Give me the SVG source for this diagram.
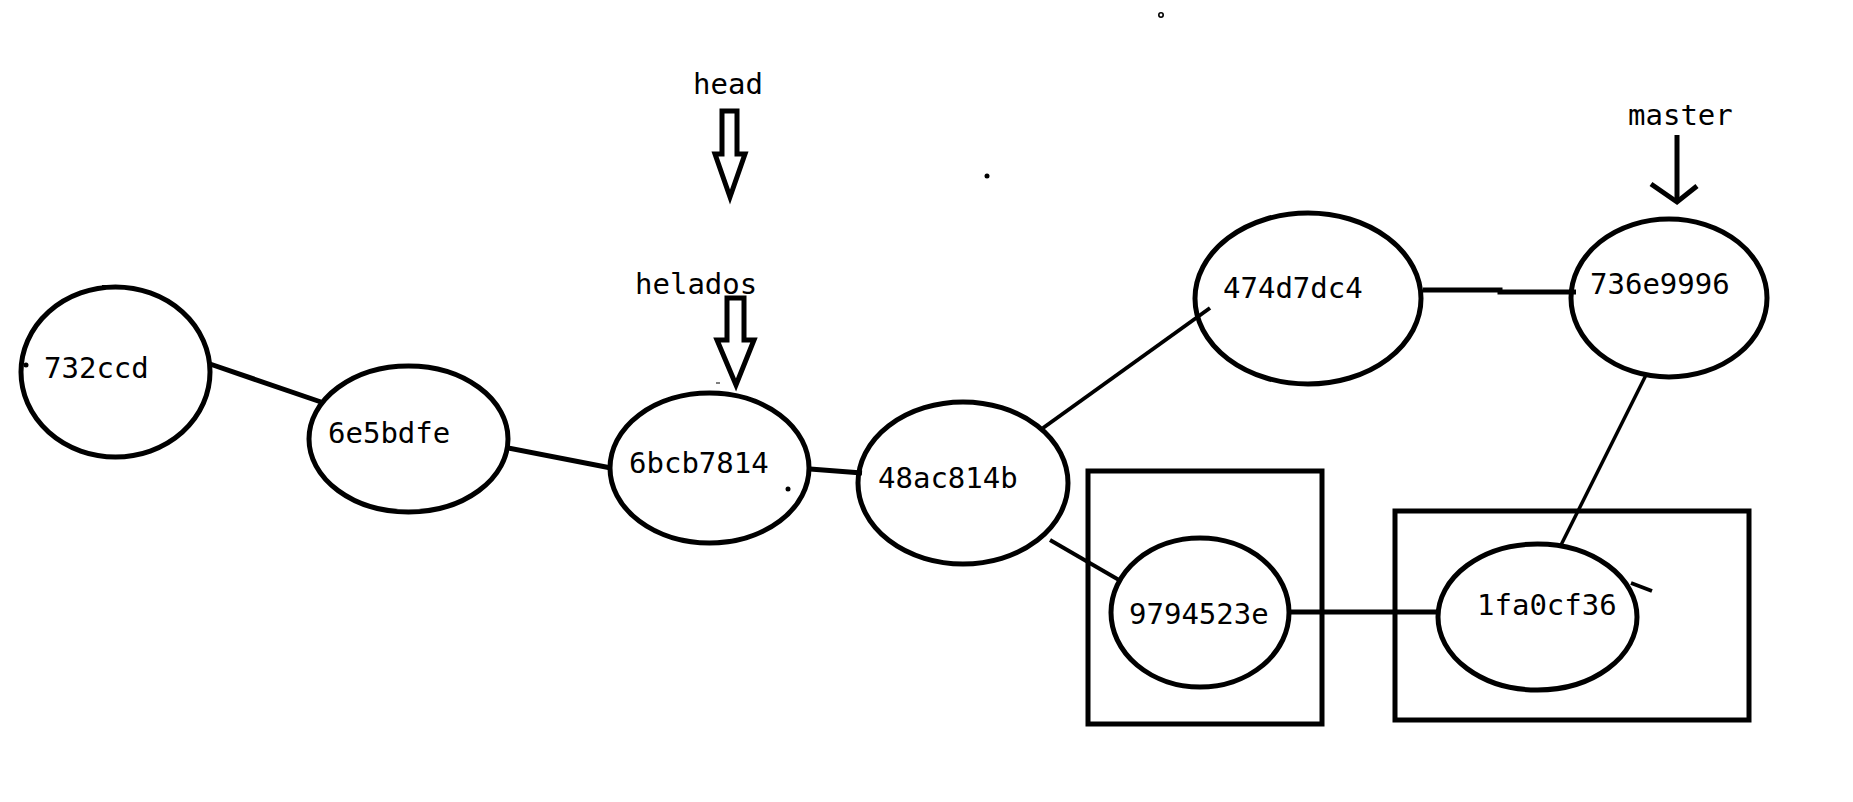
<svg xmlns="http://www.w3.org/2000/svg" width="1853" height="802" viewBox="0 0 1853 802">
<style>
.n{fill:none;stroke:#000;stroke-width:5}
.t{font-family:"DejaVu Sans Mono","Liberation Mono",monospace;font-size:29px;fill:#000}
.c{stroke:#000;stroke-width:5;fill:none;stroke-linecap:butt}
.box{fill:none;stroke:#000;stroke-width:5}
.ar{fill:#fff;stroke:#000;stroke-width:5;stroke-linejoin:miter}
</style>
<rect width="1853" height="802" fill="#fff"/>
<g id="connectors">
<line class="c" x1="210" y1="364" x2="321" y2="402"/>
<line class="c" x1="508" y1="448" x2="611" y2="468"/>
<line class="c" x1="810" y1="469" x2="862" y2="473"/>
<line class="c" x1="1043" y1="428" x2="1210" y2="308" style="stroke-width:4"/>
<line class="c" x1="1050" y1="540" x2="1119" y2="580" style="stroke-width:4"/>
<path class="c" d="M1423 290 H1500 V292 H1576"/>
<line class="c" x1="1291" y1="612" x2="1438" y2="612"/>
<line class="c" x1="1646" y1="375" x2="1561" y2="545" style="stroke-width:3.5"/>
</g>
<g id="box-9794523e"><rect class="box" x="1088" y="471" width="234" height="253"/></g>
<g id="box-1fa0cf36"><rect class="box" x="1395" y="511" width="354" height="209"/></g>
<g id="n732ccd">
<ellipse class="n" cx="115.5" cy="372" rx="94.5" ry="85"/>
<line x1="102" y1="286" x2="112" y2="286" stroke="#000" stroke-width="2"/>
<circle cx="26" cy="365" r="2.5" fill="#000"/>
<text class="t" x="44" y="378">732ccd</text>
</g>
<g id="n6e5bdfe">
<ellipse class="n" cx="408.5" cy="439" rx="99.5" ry="73"/>
<text class="t" x="328" y="443">6e5bdfe</text>
</g>
<g id="n6bcb7814">
<ellipse class="n" cx="709.5" cy="468" rx="99.5" ry="75"/>
<circle cx="788" cy="489" r="2.5" fill="#000"/>
<line x1="716" y1="383" x2="720" y2="383" stroke="#000" stroke-width="1"/>
<text class="t" x="629" y="473">6bcb7814</text>
</g>
<g id="n48ac814b">
<ellipse class="n" cx="963" cy="483" rx="105" ry="81"/>
<text class="t" x="878" y="488">48ac814b</text>
</g>
<g id="n474d7dc4">
<ellipse class="n" cx="1308" cy="298.5" rx="113" ry="85.5"/>
<text class="t" x="1223" y="298">474d7dc4</text>
</g>
<g id="n736e9996">
<ellipse class="n" cx="1669" cy="298" rx="98" ry="79"/>
<text class="t" x="1590" y="294">736e9996</text>
</g>
<g id="n9794523e">
<ellipse class="n" cx="1200" cy="612.5" rx="89" ry="74.5"/>
<text class="t" x="1129" y="624">9794523e</text>
</g>
<g id="n1fa0cf36">
<ellipse class="n" cx="1537.5" cy="617" rx="99.5" ry="73"/>
<line x1="1631" y1="583" x2="1652" y2="591" stroke="#000" stroke-width="4"/>
<text class="t" x="1477" y="615">1fa0cf36</text>
</g>
<g id="head">
<text class="t" x="693" y="94">head</text>
<path class="ar" d="M722 111 H737 V154 H745 L730 197 L715 154 H722 Z"/>
</g>
<g id="helados">
<text class="t" x="635" y="294">helados</text>
<path class="ar" d="M727 298 H744 V340 H754 L736 385 L717 340 H727 Z"/>
</g>
<g id="master">
<text class="t" x="1628" y="125">master</text>
<line x1="1677" y1="135" x2="1677" y2="202" stroke="#000" stroke-width="5"/>
<polyline points="1651,184 1677,202 1697,186" fill="none" stroke="#000" stroke-width="5"/>
</g>
<circle cx="1161" cy="15" r="2.2" fill="none" stroke="#000" stroke-width="1.6"/>
<circle cx="987" cy="176" r="2.5" fill="#000"/>
</svg>
